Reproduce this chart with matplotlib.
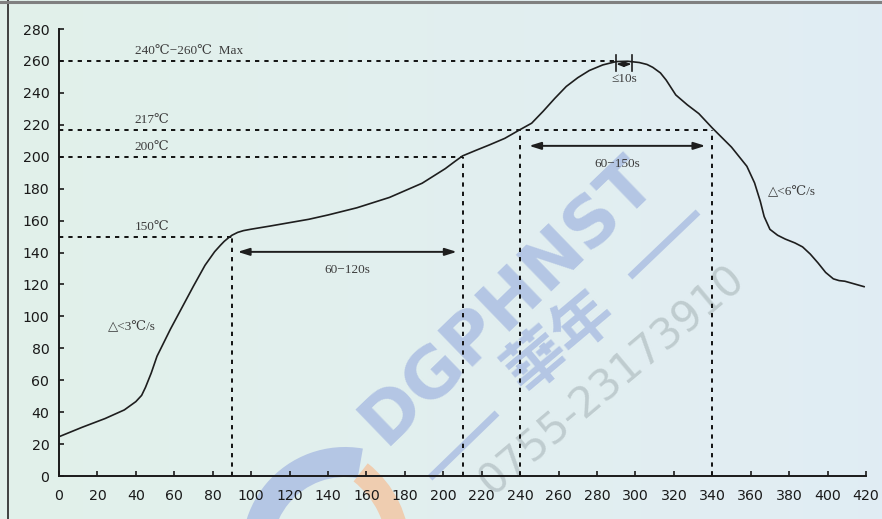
import matplotlib.pyplot as plt
import numpy as np
from matplotlib.lines import Line2D
from matplotlib.patches import Wedge

# reflow profile, time (s) vs temperature (℃)
time_s = [0, 12, 24, 34, 40, 43, 45, 48, 51, 58, 64, 70, 76, 81, 84, 86, 88,
          90, 93, 96, 100, 110, 120, 130, 140, 155, 172, 189, 201, 206, 210,
          217, 224, 232, 240, 246, 252, 258, 264, 270, 276, 283, 290, 296,
          302, 306, 309, 313, 316, 321, 327, 333, 340, 350, 358, 362, 365,
          367, 370, 374, 378, 383, 387, 391, 395, 399, 403, 406, 409, 414,
          419]
temp_c = [24.6, 30.5, 36, 41.4, 46.6, 50.5, 55.5, 64.5, 75, 92, 105.5, 119,
          132, 140.5, 144.5, 147, 149, 150.8, 152.6, 153.7, 154.6, 156.6,
          158.7, 160.8, 163.5, 168, 174.5, 183.4, 192.5, 197, 200.5, 204,
          207.4, 211.5, 217, 221, 228.5, 236.5, 244, 249.5, 254, 257.5, 259.6,
          259.8, 259, 257.8, 256, 252.5, 248, 238.7, 232.5, 227, 218, 206,
          194, 183.6, 172, 162.5, 154.5, 150.8, 148.4, 146, 143.5, 139,
          133.5, 127.5, 123.5, 122.4, 122, 120.3, 118.6]

x_ticks = list(range(0, 421, 20))
y_ticks = list(range(0, 281, 20))

# horizontal guides: level, where the dashed line stops, label
levels = [260, 217, 200, 150]
level_ends = [290, 340, 210, 90]
level_labels = ["240℃−260℃  Max", "217℃", "200℃", "150℃"]

# vertical guides: time, height of the dashed line
marks_t = [90, 210, 240, 340]
marks_top = [150, 200, 217, 217]

# duration arrows: start, end, height, label
zones = [(93, 207, 140.4, "60−120s"), (244.7, 336.4, 206.8, "60−150s")]
peak_window = (290, 298)

serif = ["Liberation Serif", "DejaVu Serif", "Noto Sans CJK SC"]
txt_col = "#3c3c3c"
fs = 9.5

W, H = 882, 519
fig = plt.figure(figsize=(W / 100, H / 100), dpi=100)

# soft green-to-blue backdrop, in pixel units (y down)
bg = fig.add_axes([0, 0, 1, 1], zorder=0)
c0 = np.array([0.886, 0.945, 0.918])
c1 = np.array([0.882, 0.929, 0.957])
w = np.linspace(0, 1, 256)[None, :, None]
bg.imshow(c0 + (c1 - c0) * w, aspect="auto", extent=[0, W, H, 0])
bg.set_xlim(0, W)
bg.set_ylim(H, 0)
bg.axis("off")

# watermark
wm_blue = "#b4c6e4"
wm_orange = "#efcdb0"
bg.add_patch(Wedge((345, 550), 103, -200, -80, width=30, color=wm_blue, lw=0))
bg.add_patch(Wedge((300, 550), 110, -52, 0, width=23, color=wm_orange, lw=0))
bg.text(508, 300, "DGPHNST", rotation=44, fontsize=50, fontweight="bold",
        color=wm_blue, ha="center", va="center", family="DejaVu Sans")
bg.text(560, 342, "華年", rotation=40, fontsize=44, fontweight="bold",
        color=wm_blue, ha="center", va="center", family=["Noto Sans CJK TC"])
bg.text(612, 380, "0755-23173910", rotation=40, fontsize=30,
        color="#bfcccf", ha="center", va="center", family="DejaVu Sans")
for (xa, ya), (xb, yb) in [((430, 478), (497, 413)), ((630, 277), (698, 212))]:
    bg.plot([xa, xb], [ya, yb], color=wm_blue, lw=5, solid_capstyle="butt")

# frame lines
fig.add_artist(Line2D([7.5 / W] * 2, [0, 1], color="#333333", lw=1.3))
fig.add_artist(Line2D([0, 1], [1 - 1.5 / H] * 2, color="#808080", lw=2.2))

ax = fig.add_axes([59 / W, 43 / H, 807 / W, 447 / H], zorder=1)
ax.patch.set_alpha(0)

ax.plot(time_s, temp_c, color="#1e1e1e", lw=1.2, zorder=3)

dash = (0, (2.2, 2.6))
for lv, end, lab in zip(levels, level_ends, level_labels):
    ax.plot([0, end], [lv, lv], color="#111111", lw=1.4, ls=dash)
    ax.text(39.5, lv + 2.2, lab, fontsize=fs, color=txt_col, family=serif,
            ha="left", va="bottom")
for t, top in zip(marks_t, marks_top):
    ax.plot([t, t], [0, top], color="#111111", lw=1.4, ls=dash)

for a, b, y, lab in zones:
    ax.annotate("", xy=(b, y), xytext=(a, y),
                arrowprops=dict(arrowstyle="<|-|>,head_length=0.7,head_width=0.22",
                                color="#1e1e1e", lw=1.4, shrinkA=0, shrinkB=0))
    ax.text((a + b) / 2, y - 11.5, lab, fontsize=fs, color=txt_col,
            family=serif, ha="center", va="center")

# time above liquidus at peak
pa, pb = peak_window
for t in peak_window:
    ax.plot([t, t], [254, 264], color="#1e1e1e", lw=1.2)
ax.annotate("", xy=(pb, 258), xytext=(pa, 258),
            arrowprops=dict(arrowstyle="<|-|>,head_length=0.4,head_width=0.15",
                            color="#1e1e1e", lw=1.2, shrinkA=0, shrinkB=0))
ax.text((pa + pb) / 2, 248.5, "≤10s", fontsize=fs, color=txt_col,
        family=serif, ha="center", va="center")

ax.text(25.5, 93.5, "△<3℃/s", fontsize=fs, color=txt_col, family=serif,
        ha="left", va="center")
ax.text(368.8, 178, "△<6℃/s", fontsize=fs, color=txt_col, family=serif,
        ha="left", va="center")

ax.set_xlim(0, 420)
ax.set_ylim(0, 280)
ax.set_xticks(x_ticks)
ax.set_yticks(y_ticks)
for s in ["top", "right"]:
    ax.spines[s].set_visible(False)
for s in ["left", "bottom"]:
    ax.spines[s].set_linewidth(1.4)
    ax.spines[s].set_color("#1a1a1a")
ax.tick_params(direction="in", length=3.5, width=1.2, color="#1a1a1a",
               labelsize=10.2, labelcolor="#1a1a1a")
ax.tick_params(axis="x", pad=9)
ax.tick_params(axis="y", pad=7)

fig.savefig("out.png", dpi=100)
